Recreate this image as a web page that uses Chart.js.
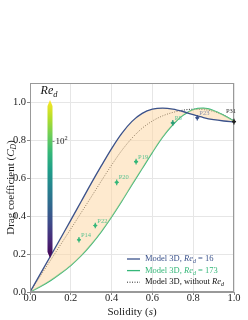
<!DOCTYPE html>
<html>
<head>
<meta charset="utf-8">
<script src="https://cdn.jsdelivr.net/npm/chart.js@4"></script>
<style>
  html, body { margin: 0; padding: 0; background: #fff; }
  #wrap { width: 248px; height: 320px; }
</style>
</head>
<body>
<div id="wrap"><canvas id="cdChart" width="248" height="320"></canvas></div>
<script>
/* ===== DATA ===== */
const solidity = [0, .05, .1, .15, .2, .25, .3, .35, .4, .45, .5, .55, .6, .65, .7, .75, .8, .85, .9, .95, 1];
const cdRe16   = [0, .094, .188, .283, .378, .475, .572, .665, .755, .835, .898, .94, .962, .968, .963, .95, .933, .918, .907, .9, .895];
const cdRe173  = [0, .028, .06, .098, .14, .19, .25, .318, .395, .478, .565, .65, .735, .815, .88, .93, .96, .967, .955, .93, .9];
const cdNoRe   = [0, .083, .166, .249, .332, .416, .5, .585, .668, .745, .81, .862, .9, .927, .945, .957, .962, .96, .95, .93, .9];

const expNames = ['P14', 'P22', 'P20', 'P19', 'P8', 'P23', 'P31'];
const expS     = [0.24, 0.32, 0.425, 0.52, 0.70, 0.82, 1.0];
const expCd    = [0.275, 0.35, 0.577, 0.686, 0.89, 0.917, 0.897];
const expSErr  = [0.01, 0.01, 0.01, 0.01, 0.01, 0.01, 0.01];
const expCdErr = [0.015, 0.015, 0.015, 0.015, 0.015, 0.015, 0.015];

const xTicks = [0, 0.2, 0.4, 0.6, 0.8, 1.0];
const yTicks = [0, 0.2, 0.4, 0.6, 0.8, 1.0];

/* ===== STYLE ===== */
const SERIF   = "'Liberation Serif', 'DejaVu Serif', serif";
const BLUE    = '#3b528b';
const GREEN   = '#35b779';
const FILL    = 'rgba(253,214,160,0.5)';
const expCol  = [GREEN, GREEN, GREEN, GREEN, '#2a9d78', BLUE, '#222'];
const labCol  = ['#5ec493', '#5ec493', '#5ec493', '#5ec493', '#5ec493', '#8a92ad', '#333'];
const viridis = ['#440154', '#482878', '#3e4a89', '#31688e', '#26828e', '#1f9e89', '#35b779', '#6ece58', '#b5de2b', '#fde725'];

const xy = ys => solidity.map((s, i) => ({ x: s, y: ys[i] }));

// rich text helper: parts = [[text, italic, sub/sup]]
function richText(ctx, parts, x, y, size, color, align) {
  const fontOf = p => `${p[1] ? 'italic ' : ''}${p[2] ? size * 0.7 : size}px ${SERIF}`;
  let total = 0;
  parts.forEach(p => { ctx.font = fontOf(p); total += ctx.measureText(p[0]).width; });
  let cx = align === 'center' ? x - total / 2 : align === 'right' ? x - total : x;
  ctx.fillStyle = color;
  ctx.textBaseline = 'middle';
  ctx.textAlign = 'left';
  parts.forEach(p => {
    ctx.font = fontOf(p);
    const dy = p[2] === 'sub' ? size * 0.3 : p[2] === 'sup' ? -size * 0.35 : 0;
    ctx.fillText(p[0], cx, y + dy);
    cx += ctx.measureText(p[0]).width;
  });
}

const overlay = {
  id: 'overlay',
  afterDatasetsDraw(chart) {
    const { ctx, chartArea: a, scales: { x, y } } = chart;
    ctx.save();

    // frame top/right
    ctx.strokeStyle = '#999';
    ctx.lineWidth = 1;
    ctx.strokeRect(a.left + 0.5, a.top + 0.5, a.right - a.left - 1, a.bottom - a.top - 1);

    // experiments with error bars
    expS.forEach((s, i) => {
      const px = x.getPixelForValue(s), py = y.getPixelForValue(expCd[i]);
      const x0 = x.getPixelForValue(s - expSErr[i]), x1 = x.getPixelForValue(s + expSErr[i]);
      const y0 = y.getPixelForValue(expCd[i] - expCdErr[i]), y1 = y.getPixelForValue(expCd[i] + expCdErr[i]);
      ctx.strokeStyle = expCol[i];
      ctx.lineWidth = 1.2;
      ctx.beginPath();
      ctx.moveTo(x0, py); ctx.lineTo(x1, py);
      ctx.moveTo(px, y0); ctx.lineTo(px, y1);
      ctx.stroke();
      ctx.fillStyle = expCol[i];
      ctx.beginPath(); ctx.arc(px, py, 1.6, 0, Math.PI * 2); ctx.fill();
      ctx.font = `6.5px ${SERIF}`;
      ctx.fillStyle = labCol[i];
      ctx.textBaseline = 'alphabetic';
      ctx.textAlign = 'left';
      const last = i === expS.length - 1;
      ctx.fillText(expNames[i], px + (last ? -8 : 2), py + (last ? -9 : -3));
    });

    // colorbar
    const cbL = 47.5, cbR = 52.5, cbT = 106, cbB = 252, tip = 6;
    const g = ctx.createLinearGradient(0, cbB + tip, 0, cbT - tip);
    viridis.forEach((c, i) => g.addColorStop(i / (viridis.length - 1), c));
    ctx.fillStyle = g;
    ctx.beginPath();
    ctx.moveTo(cbL, cbT); ctx.lineTo((cbL + cbR) / 2, cbT - tip); ctx.lineTo(cbR, cbT);
    ctx.lineTo(cbR, cbB); ctx.lineTo((cbL + cbR) / 2, cbB + tip); ctx.lineTo(cbL, cbB);
    ctx.closePath();
    ctx.fill();
    ctx.strokeStyle = '#444';
    ctx.lineWidth = 0.6;
    ctx.beginPath(); ctx.moveTo(cbR, 141.5); ctx.lineTo(cbR + 2, 141.5); ctx.stroke();
    richText(ctx, [['10'], ['2', false, 'sup']], cbR + 3, 142, 9, '#222', 'left');
    richText(ctx, [['Re', true], ['d', true, 'sub']], 49, 91, 12, '#111', 'center');

    // legend
    const lg = [
      { col: BLUE,  dash: [], parts: [['Model 3D, '], ['Re', true], ['d', true, 'sub'], [' = 16']] },
      { col: GREEN, dash: [], parts: [['Model 3D, '], ['Re', true], ['d', true, 'sub'], [' = 173']] },
      { col: '#111', dash: [1, 1.5], parts: [['Model 3D, without '], ['Re', true], ['d', true, 'sub']] }
    ];
    lg.forEach((r, i) => {
      const ly = 259 + i * 11.6;
      ctx.strokeStyle = r.col;
      ctx.lineWidth = r.dash.length ? 0.9 : 1.3;
      ctx.setLineDash(r.dash);
      ctx.beginPath(); ctx.moveTo(127, ly); ctx.lineTo(140, ly); ctx.stroke();
      ctx.setLineDash([]);
      richText(ctx, r.parts, 145, ly, 8.5, r.col, 'left');
    });

    // axis titles
    richText(ctx, [['Solidity ('], ['s', true], [')']], (a.left + a.right) / 2, 312, 11, '#222', 'center');
    ctx.translate(11, (a.top + a.bottom) / 2);
    ctx.rotate(-Math.PI / 2);
    richText(ctx, [['Drag coefficient ('], ['C', true], ['D', true, 'sub'], [')']], 0, 0, 11, '#222', 'center');
    ctx.restore();
  }
};

new Chart(document.getElementById('cdChart'), {
  type: 'line',
  data: {
    datasets: [
      { data: xy(cdRe16), borderColor: BLUE, borderWidth: 1.3, pointRadius: 0,
        cubicInterpolationMode: 'monotone', fill: { target: 1, above: FILL, below: FILL } },
      { data: xy(cdRe173), borderColor: GREEN, borderWidth: 1.3, pointRadius: 0,
        cubicInterpolationMode: 'monotone', fill: false },
      { data: xy(cdNoRe), borderColor: '#111', borderWidth: 0.9, borderDash: [1, 1.5], pointRadius: 0,
        cubicInterpolationMode: 'monotone', fill: false }
    ]
  },
  options: {
    responsive: false, animation: false, devicePixelRatio: 1,
    layout: { padding: { top: 83, right: 14, left: 0, bottom: 0 } },
    plugins: { legend: { display: false }, tooltip: { enabled: false } },
    scales: {
      x: {
        type: 'linear', min: 0, max: 1,
        afterFit: s => { s.height = 28; },
        afterBuildTicks: s => { s.ticks = xTicks.map(v => ({ value: v })); },
        ticks: { callback: v => v.toFixed(1), font: { family: SERIF, size: 10.5 }, color: '#222', padding: -3, maxRotation: 0 },
        grid: { color: '#e6e6e6', tickLength: 3, tickColor: '#888' },
        border: { color: '#999' }
      },
      y: {
        min: 0, max: 1.1,
        afterFit: s => { s.width = 30; },
        afterBuildTicks: s => { s.ticks = yTicks.map(v => ({ value: v })); },
        ticks: { callback: v => v.toFixed(1), font: { family: SERIF, size: 10.5 }, color: '#222', padding: 1 },
        grid: { color: '#e6e6e6', tickLength: 3, tickColor: '#888' },
        border: { color: '#999' }
      }
    }
  },
  plugins: [overlay]
});
</script>
</body>
</html>
